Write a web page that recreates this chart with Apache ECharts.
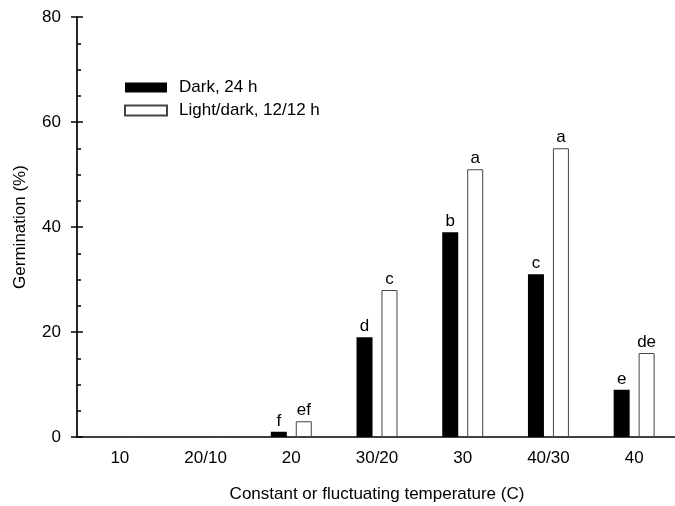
<!DOCTYPE html>
<html>
<head>
<meta charset="utf-8">
<script src="https://cdn.jsdelivr.net/npm/echarts@6/dist/echarts.min.js"></script>
<style>
  html, body { margin: 0; padding: 0; background: #fff; }
  #chart { width: 675px; height: 506px; }
</style>
</head>
<body>
<div id="chart"></div>
<script>
const categories = ['10', '20/10', '20', '30/20', '30', '40/30', '40'];
const darkValues = [0, 0, 1, 19, 39, 31, 9];
const lightValues = [0, 0, 3, 28, 51, 55, 16];
const darkLetters = ['', '', 'f', 'd', 'b', 'c', 'e'];
const lightLetters = ['', '', 'ef', 'c', 'a', 'a', 'de'];
const yTicks = [0, 20, 40, 60, 80];

const font = 'Liberation Sans, Arial, sans-serif';
const fs = 17;

const chart = echarts.init(document.getElementById('chart'));

const letterLabel = (letters) => ({
    show: true,
    position: 'top',
    distance: 2,
    color: '#000',
    fontFamily: font,
    fontSize: fs,
    formatter: p => letters[p.dataIndex]
});

const option = {
    animation: false,
    backgroundColor: '#fff',
    textStyle: { fontFamily: font },
    grid: {
        left: 77,
        top: 17,
        bottom: 69,
        right: -2,
        outerBoundsMode: 'none'
    },
    legend: {
        orient: 'vertical',
        left: 119,
        top: 74,
        itemWidth: 42,
        itemHeight: 10,
        itemGap: 6,
        icon: 'rect',
        textStyle: { color: '#000', fontSize: fs, fontFamily: font, padding: [0, 0, 0, 7] },
        data: ['Dark, 24 h', 'Light/dark, 12/12 h']
    },
    xAxis: {
        type: 'category',
        data: categories,
        name: 'Constant or fluctuating temperature (C)',
        nameLocation: 'middle',
        nameGap: 49,
        nameTextStyle: { color: '#000', fontSize: fs, fontFamily: font },
        axisLine: { lineStyle: { color: '#000', width: 1.7 } },
        axisTick: { alignWithLabel: true, length: 5, lineStyle: { color: '#000', width: 1.5 } },
        axisLabel: { color: '#000', fontSize: fs, margin: 13, fontFamily: font }
    },
    yAxis: [
        {
            type: 'value',
            min: yTicks[0],
            max: yTicks[yTicks.length - 1],
            interval: 20,
            name: 'Germination (%)',
            nameLocation: 'middle',
            nameGap: 48,
            nameTextStyle: { color: '#000', fontSize: fs, fontFamily: font },
            axisLine: { show: true, lineStyle: { color: '#000', width: 1.7 } },
            axisTick: { show: true, inside: true, length: 6, lineStyle: { color: '#000', width: 1.5 } },
            minorTick: { show: true, splitNumber: 4, length: 4, lineStyle: { color: '#000', width: 1.5 } },
            axisLabel: { color: '#000', fontSize: fs, margin: 16, fontFamily: font },
            splitLine: { show: false }
        },
        {
            type: 'value',
            position: 'left',
            min: yTicks[0],
            max: yTicks[yTicks.length - 1],
            interval: 20,
            axisLine: { show: false },
            axisTick: { show: true, inside: false, length: 6, lineStyle: { color: '#000', width: 1.5 } },
            axisLabel: { show: false },
            splitLine: { show: false }
        }
    ],
    series: [
        {
            name: 'Dark, 24 h',
            type: 'bar',
            data: darkValues,
            barWidth: 16,
            barGap: '56%',
            itemStyle: { color: '#000' },
            label: letterLabel(darkLetters)
        },
        {
            name: 'Light/dark, 12/12 h',
            type: 'bar',
            data: lightValues,
            barWidth: 16,
            itemStyle: { color: '#fff', borderColor: '#444', borderWidth: 1 },
            label: letterLabel(lightLetters)
        }
    ]
};

chart.setOption(option);
</script>
</body>
</html>
